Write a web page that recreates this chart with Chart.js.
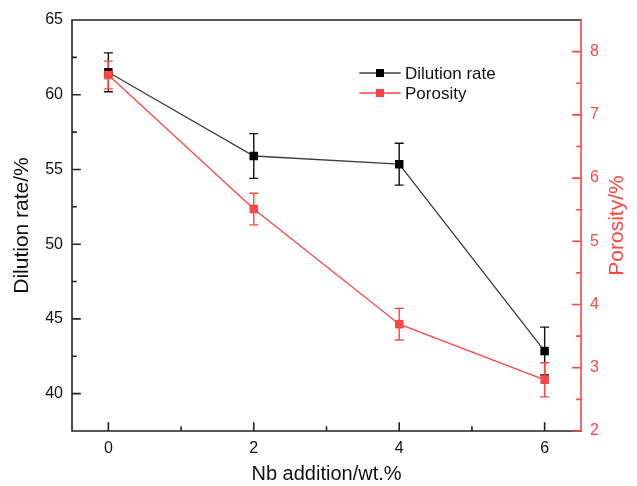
<!DOCTYPE html>
<html>
<head>
<meta charset="utf-8">
<script src="https://cdn.jsdelivr.net/npm/chart.js@4"></script>
<style>
    html, body { margin: 0; padding: 0; background: #fff; }
</style>
</head>
<body>
<canvas id="nb-chart" width="637" height="486"></canvas>
<script>
// Nb addition series
const nbAddition = [0, 2, 4, 6];
const dilutionRate = [61.5, 55.9, 55.35, 42.85];
const dilutionErr = [1.3, 1.5, 1.4, 1.6];
const porosity = [7.63, 5.51, 3.69, 2.81];
const porosityErr = [0.22, 0.25, 0.25, 0.27];

// axis ticks
const xTicks = [0, 2, 4, 6];
const xMinor = [1, 3, 5];
const leftTicks = [40, 45, 50, 55, 60, 65];
const leftMinor = [42.5, 47.5, 52.5, 57.5, 62.5];
const rightTicks = [2, 3, 4, 5, 6, 7, 8];
const rightMinor = [2.5, 3.5, 4.5, 5.5, 6.5, 7.5];

const RED = "#ff4444";
const DARK = "#3c3c3c";
const FONT = "Arial, 'Liberation Sans', sans-serif";

function setTicks(list) {
    return function (scale) {
        scale.ticks = list.map(function (v) { return { value: v }; });
    };
}

// error bars go under the markers
const errorBars = {
    id: "errorBars",
    beforeDatasetsDraw(chart) {
        const ctx = chart.ctx;
        chart.data.datasets.forEach(function (ds, i) {
            const meta = chart.getDatasetMeta(i);
            const yScale = chart.scales[ds.yAxisID];
            ctx.save();
            ctx.strokeStyle = ds.errColor;
            ctx.lineWidth = 1.4;
            meta.data.forEach(function (pt, j) {
                const v = ds.data[j].y;
                const top = yScale.getPixelForValue(v + ds.errors[j]);
                const bot = yScale.getPixelForValue(v - ds.errors[j]);
                ctx.beginPath();
                ctx.moveTo(pt.x, top);
                ctx.lineTo(pt.x, bot);
                ctx.moveTo(pt.x - 4.5, top);
                ctx.lineTo(pt.x + 4.5, top);
                ctx.moveTo(pt.x - 4.5, bot);
                ctx.lineTo(pt.x + 4.5, bot);
                ctx.stroke();
            });
            ctx.restore();
        });
    }
};

// box frame with inward ticks, right axis title and the legend
const frame = {
    id: "frame",
    afterDraw(chart) {
        const ctx = chart.ctx;
        const a = chart.chartArea;
        const x = chart.scales.x, yl = chart.scales.y, yr = chart.scales.y2;
        ctx.save();
        ctx.lineWidth = 1.6;
        ctx.lineCap = "square";

        ctx.strokeStyle = "#222";
        ctx.beginPath();
        ctx.moveTo(a.left, a.top); ctx.lineTo(a.right, a.top);
        ctx.moveTo(a.left, a.top); ctx.lineTo(a.left, a.bottom);
        ctx.lineTo(a.right, a.bottom);
        xTicks.forEach(function (v) {
            const p = x.getPixelForValue(v);
            ctx.moveTo(p, a.bottom); ctx.lineTo(p, a.bottom - 8);
        });
        xMinor.forEach(function (v) {
            const p = x.getPixelForValue(v);
            ctx.moveTo(p, a.bottom); ctx.lineTo(p, a.bottom - 4);
        });
        leftTicks.forEach(function (v) {
            const p = yl.getPixelForValue(v);
            ctx.moveTo(a.left, p); ctx.lineTo(a.left + 8, p);
        });
        leftMinor.forEach(function (v) {
            const p = yl.getPixelForValue(v);
            ctx.moveTo(a.left, p); ctx.lineTo(a.left + 4, p);
        });
        ctx.stroke();

        ctx.strokeStyle = RED;
        ctx.beginPath();
        ctx.moveTo(a.right, a.top); ctx.lineTo(a.right, a.bottom);
        rightTicks.forEach(function (v) {
            const p = yr.getPixelForValue(v);
            ctx.moveTo(a.right, p); ctx.lineTo(a.right - 8, p);
        });
        rightMinor.forEach(function (v) {
            const p = yr.getPixelForValue(v);
            ctx.moveTo(a.right, p); ctx.lineTo(a.right - 4, p);
        });
        ctx.stroke();

        // right title reads bottom-to-top like the left one
        ctx.save();
        ctx.translate(617, (a.top + a.bottom) / 2);
        ctx.rotate(-Math.PI / 2);
        ctx.font = "21px " + FONT;
        ctx.fillStyle = RED;
        ctx.textAlign = "center";
        ctx.textBaseline = "middle";
        ctx.fillText(yr.options.title.text, 0, 0);
        ctx.restore();

        // legend
        ctx.font = "17px " + FONT;
        ctx.textBaseline = "middle";
        chart.data.datasets.forEach(function (ds, i) {
            const y = 73 + i * 20;
            ctx.strokeStyle = ds.borderColor;
            ctx.lineWidth = 1.4;
            ctx.beginPath();
            ctx.moveTo(360, y); ctx.lineTo(400, y);
            ctx.stroke();
            ctx.fillStyle = ds.pointBackgroundColor;
            ctx.fillRect(376, y - 4, 8, 8);
            ctx.fillStyle = "#111";
            ctx.fillText(ds.label, 405, y + 1);
        });
        ctx.restore();
    }
};

const data = {
    datasets: [
        {
            label: "Dilution rate",
            data: nbAddition.map(function (v, i) { return { x: v, y: dilutionRate[i] }; }),
            errors: dilutionErr,
            errColor: "#111",
            yAxisID: "y",
            borderColor: DARK,
            borderWidth: 1.3,
            pointStyle: "rect",
            pointRadius: 6,
            pointBackgroundColor: "#000",
            pointBorderWidth: 0,
            order: 2,
        },
        {
            label: "Porosity",
            data: nbAddition.map(function (v, i) { return { x: v, y: porosity[i] }; }),
            errors: porosityErr,
            errColor: RED,
            yAxisID: "y2",
            borderColor: RED,
            borderWidth: 1.3,
            pointStyle: "rect",
            pointRadius: 6,
            pointBackgroundColor: RED,
            pointBorderWidth: 0,
            order: 1,
        },
    ],
};

const config = {
    type: "line",
    data: data,
    plugins: [errorBars, frame],
    options: {
        responsive: false,
        animation: false,
        layout: { padding: { top: 20, left: 0, right: 0, bottom: 0 } },
        plugins: { legend: { display: false }, tooltip: { enabled: false } },
        scales: {
            x: {
                type: "linear",
                min: -0.5,
                max: 6.5,
                afterBuildTicks: setTicks(xTicks),
                afterFit: function (s) { s.height = 55; },
                grid: { display: false, drawTicks: false },
                border: { display: false },
                ticks: { color: "#111", font: { family: FONT, size: 16 }, padding: 8 },
                title: {
                    display: true,
                    text: "Nb addition/wt.%",
                    color: "#111",
                    font: { family: FONT, size: 20 },
                    padding: { top: 0, bottom: 0 },
                },
            },
            y: {
                position: "left",
                min: 37.5,
                max: 65,
                afterBuildTicks: setTicks(leftTicks),
                afterFit: function (s) { s.width = 72; },
                grid: { display: false, drawTicks: false },
                border: { display: false },
                ticks: { color: "#111", font: { family: FONT, size: 16 }, padding: 9 },
                title: {
                    display: true,
                    text: "Dilution rate/%",
                    color: "#111",
                    font: { family: FONT, size: 21 },
                    padding: { top: 10, bottom: 0 },
                },
            },
            y2: {
                position: "right",
                min: 2,
                max: 8.5,
                afterBuildTicks: setTicks(rightTicks),
                afterFit: function (s) { s.width = 56; },
                grid: { display: false, drawTicks: false },
                border: { display: false },
                ticks: { color: RED, font: { family: FONT, size: 16 }, padding: 9 },
                // drawn by the frame plugin
                title: { display: false, text: "Porosity/%" },
            },
        },
    },
};

new Chart(document.getElementById("nb-chart"), config);
</script>
</body>
</html>
